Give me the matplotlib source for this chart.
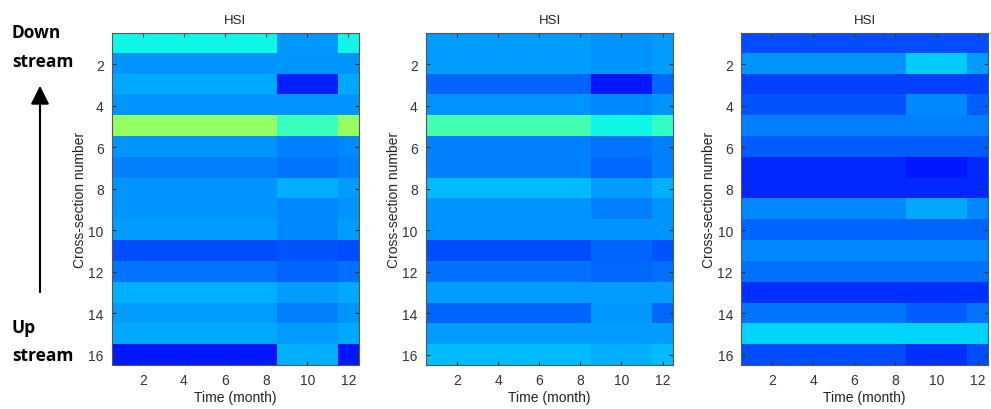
import numpy as np
import matplotlib
matplotlib.use('Agg')
import matplotlib.pyplot as plt

plt.rcParams['font.family'] = ['Liberation Sans', 'DejaVu Sans']

months = np.arange(1, 13)
sections = np.arange(1, 17)
# months 1-8, 9-11 and 12 carry one value each per cross-section
period_lengths = [8, 3, 1]

hsi_a = [
    [0.37, 0.275, 0.37], [0.27, 0.27, 0.27], [0.29, 0.16, 0.29], [0.27, 0.27, 0.27],
    [0.53, 0.42, 0.53], [0.27, 0.25, 0.26], [0.25, 0.24, 0.25], [0.27, 0.30, 0.28],
    [0.27, 0.26, 0.27], [0.28, 0.26, 0.28], [0.20, 0.21, 0.20], [0.24, 0.225, 0.235],
    [0.30, 0.28, 0.29], [0.28, 0.25, 0.27], [0.29, 0.28, 0.29], [0.15, 0.30, 0.15],
]
hsi_b = [
    [0.28, 0.27, 0.28], [0.28, 0.27, 0.28], [0.225, 0.15, 0.23], [0.27, 0.26, 0.27],
    [0.43, 0.37, 0.41], [0.25, 0.24, 0.25], [0.25, 0.23, 0.25], [0.31, 0.28, 0.30],
    [0.27, 0.25, 0.27], [0.27, 0.27, 0.27], [0.20, 0.225, 0.21], [0.235, 0.23, 0.235],
    [0.28, 0.28, 0.28], [0.225, 0.275, 0.23], [0.28, 0.28, 0.28], [0.31, 0.30, 0.31],
]
hsi_c = [
    [0.20, 0.20, 0.20], [0.27, 0.325, 0.28], [0.19, 0.19, 0.19], [0.21, 0.26, 0.22],
    [0.25, 0.25, 0.25], [0.215, 0.215, 0.215], [0.165, 0.15, 0.165], [0.165, 0.165, 0.165],
    [0.26, 0.29, 0.26], [0.225, 0.225, 0.225], [0.26, 0.26, 0.26], [0.235, 0.235, 0.235],
    [0.175, 0.175, 0.175], [0.24, 0.215, 0.24], [0.335, 0.335, 0.335], [0.20, 0.175, 0.20],
]

fig = plt.figure(figsize=(9.91, 4.10), dpi=100)
lefts = [0.113, 0.430, 0.748]
tick_col = '#333333'

for left, data in zip(lefts, [hsi_a, hsi_b, hsi_c]):
    ax = fig.add_axes([left, 0.107, 0.249, 0.810])
    grid = np.repeat(np.array(data), period_lengths, axis=1)
    ax.imshow(grid, cmap='jet', vmin=0, vmax=1, aspect='auto', interpolation='nearest',
              extent=(months[0] - 0.5, months[-1] + 0.5, sections[-1] + 0.5, sections[0] - 0.5))
    ax.set_xticks(months[1::2])
    ax.set_yticks(sections[1::2])
    ax.tick_params(direction='in', top=True, right=True, length=3, labelsize=10,
                   colors=tick_col, pad=6)
    for s in ax.spines.values():
        s.set_color('#555555')
        s.set_linewidth(0.8)
    ax.set_title('HSI', fontsize=9.5, color='#222222', pad=7)
    ax.set_xlabel('Time (month)', fontsize=10, color='#222222', labelpad=2)
    ax.set_ylabel('Cross-section number', fontsize=10, color='#222222', labelpad=1)

bold = dict(fontsize=12.5, fontweight='bold', family=['Open Sans', 'DejaVu Sans'], ha='left', va='center')
fig.text(0.012, 1 - 33 / 410, 'Down', **bold)
fig.text(0.012, 1 - 62 / 410, 'stream', **bold)
fig.text(0.012, 1 - 328 / 410, 'Up', **bold)
fig.text(0.012, 1 - 356 / 410, 'stream', **bold)
fig.add_artist(matplotlib.patches.FancyArrowPatch(
    (40 / 991, 1 - 296 / 410), (40 / 991, 1 - 84 / 410), transform=fig.transFigure,
    arrowstyle='-|>,head_length=7,head_width=3.5', mutation_scale=1.6, color='black', lw=1.5))

fig.savefig('out.png', dpi=100)
